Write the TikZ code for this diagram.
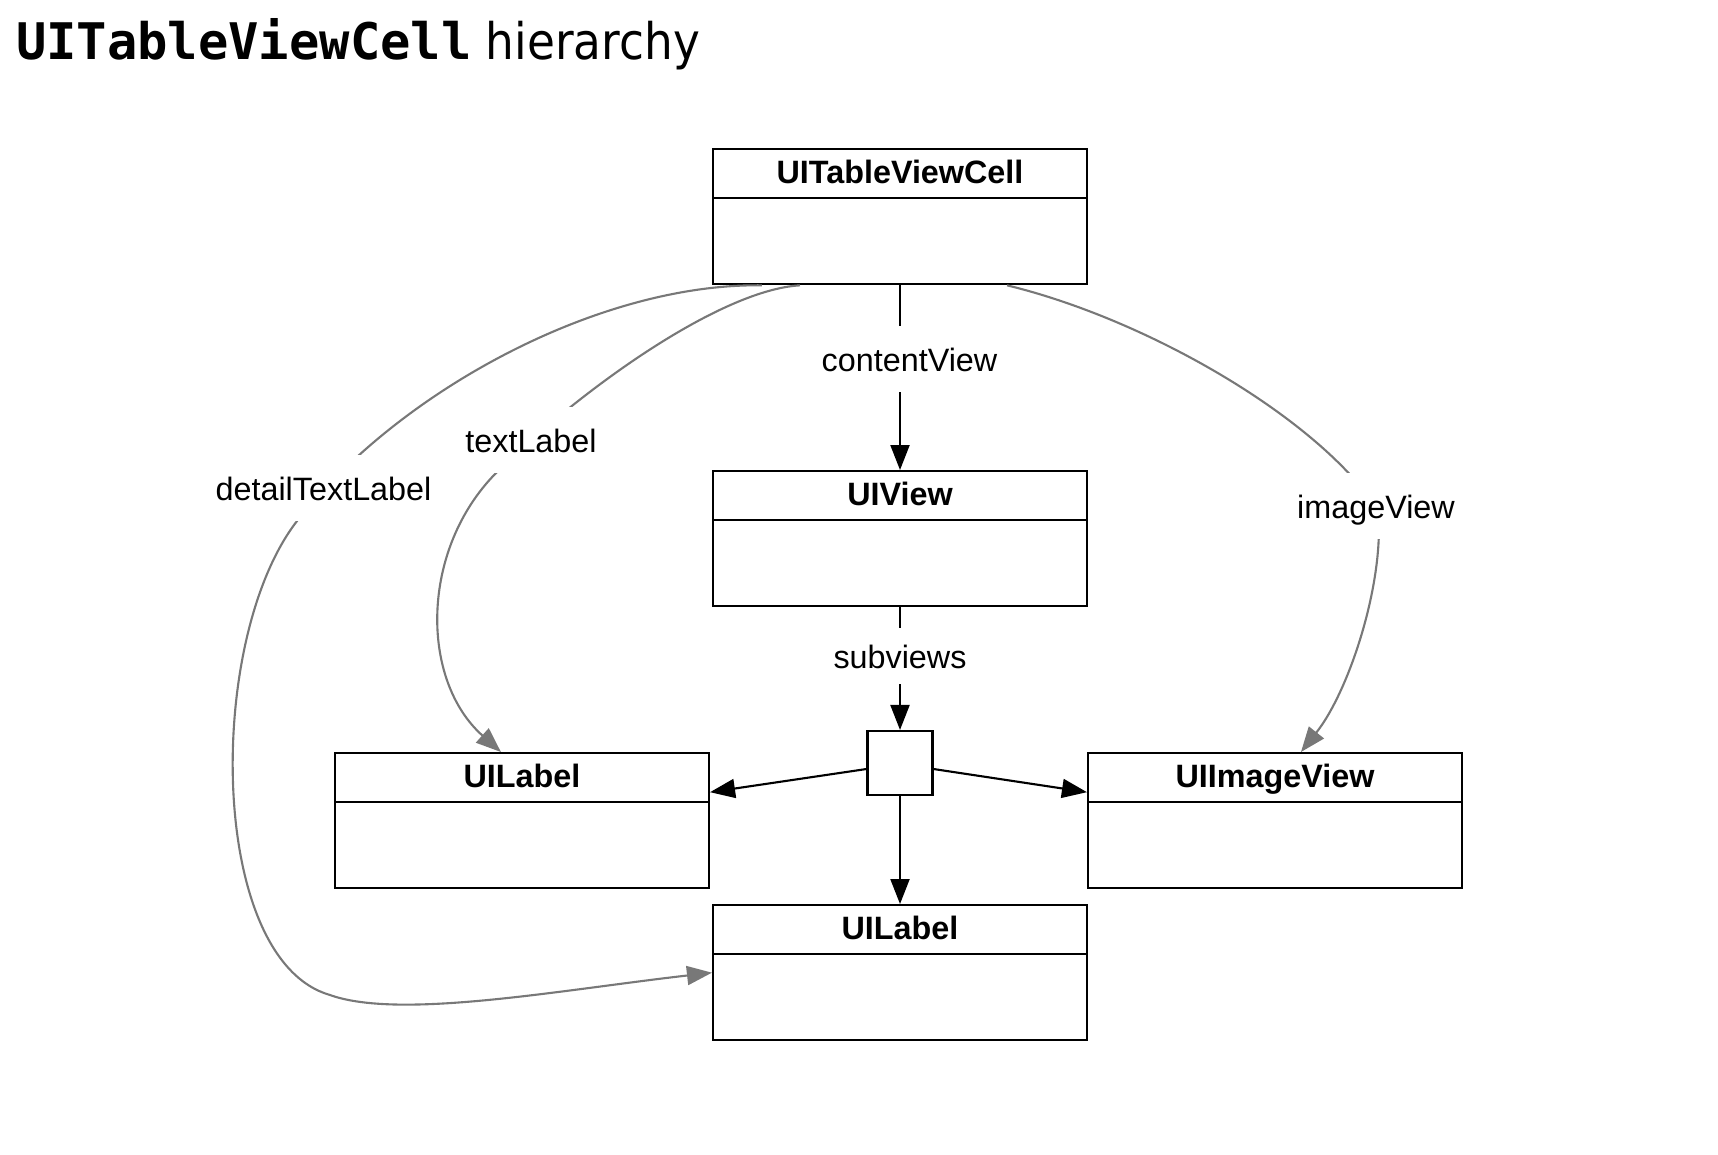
\documentclass[tikz,border=0pt]{standalone}
\usepackage{fontspec}
\setmainfont{Liberation Sans}
\setmonofont{DejaVu Sans Mono}
\newfontfamily\condfont[FakeStretch=0.9]{DejaVu Sans}
\usetikzlibrary{shapes.multipart,arrows.meta}

\definecolor{linkgray}{gray}{0.47}
\newcommand{\hdstrut}{\rule[-1.4mm]{0pt}{4.7mm}}
\newcommand{\bodystrut}{\rule{0pt}{8.4mm}}

\begin{document}
\begin{tikzpicture}[>={Triangle[length=2.5mm,width=1.9mm]}, line width=0.6pt,
    classbox/.style={draw, rectangle split, rectangle split parts=2, anchor=north,
        text width=3.74cm, align=center, inner xsep=0pt, inner ysep=0pt,
        font=\fontsize{9.2}{11}\selectfont\bfseries},
    lab/.style={fill=white, inner xsep=1mm, inner ysep=1.7mm, text height=2.8mm,
        text depth=0.4mm, font=\fontsize{9.2}{11}\selectfont},
    link/.style={->, draw=linkgray}]
    \useasboundingbox (0,0) rectangle (17.18,-11.54);

    \node (title) [anchor=base west, inner sep=0pt, font=\fontsize{14.35}{17}\selectfont\condfont] at (0.15,-0.59) {{\ttfamily\bfseries UITableViewCell} hierarchy};

    \node (cell) [classbox] at (9.00,-1.48) {UITableViewCell\hdstrut\nodepart{two}\bodystrut};
    \node (view) [classbox] at (9.00,-4.70) {UIView\hdstrut\nodepart{two}\bodystrut};
    \node (sq) [draw, minimum width=0.65cm, minimum height=0.64cm, inner sep=0pt] at (9.00,-7.63) {};
    \node (lbl1) [classbox] at (5.22,-7.52) {UILabel\hdstrut\nodepart{two}\bodystrut};
    \node (imgv) [classbox] at (12.75,-7.52) {UIImageView\hdstrut\nodepart{two}\bodystrut};
    \node (lbl2) [classbox] at (9.00,-9.04) {UILabel\hdstrut\nodepart{two}\bodystrut};

    \draw[->] (cell) -- node[lab, pos=.40, xshift=.95mm] {contentView} (view);
    \draw[->] (view) -- node[lab, pos=.40, inner ysep=1.2mm] {subviews} (sq);
    \draw[->] ([yshift=-0.6mm]sq.west) -- ([yshift=1mm]lbl1.text split east);
    \draw[->] ([yshift=-0.6mm]sq.east) -- ([yshift=1mm]imgv.text split west);
    \draw[->] (sq) -- (lbl2);

    % grey property links
    \draw[link] ([xshift=5mm]cell.south west) .. controls (6.00,-2.83) and (4.00,-3.90) .. (2.97,-5.21)
        .. controls (2.05,-6.40) and (2.08,-9.60) .. (3.30,-9.95)
        .. controls (4.00,-10.20) and (5.60,-9.90) .. (lbl2.west);
    \draw[link] ([xshift=8.8mm]cell.south west) .. controls (7.20,-2.90) and (5.80,-3.90) .. (4.96,-4.73)
        .. controls (4.20,-5.50) and (4.20,-6.80) .. ([xshift=16.7mm]lbl1.north west);
    \draw[link] ([xshift=-8.1mm]cell.south east) .. controls (11.50,-3.20) and (13.20,-4.20) .. (13.78,-5.10)
        .. controls (13.85,-5.80) and (13.50,-6.90) .. ([xshift=21.4mm]imgv.north west);

    \node (tl) [lab] at (5.31,-4.40) {textLabel};
    \node (dtl) [lab] at (3.235,-4.88) {detailTextLabel};
    \node (iv) [lab] at (13.76,-5.06) {imageView};
\end{tikzpicture}
\end{document}
